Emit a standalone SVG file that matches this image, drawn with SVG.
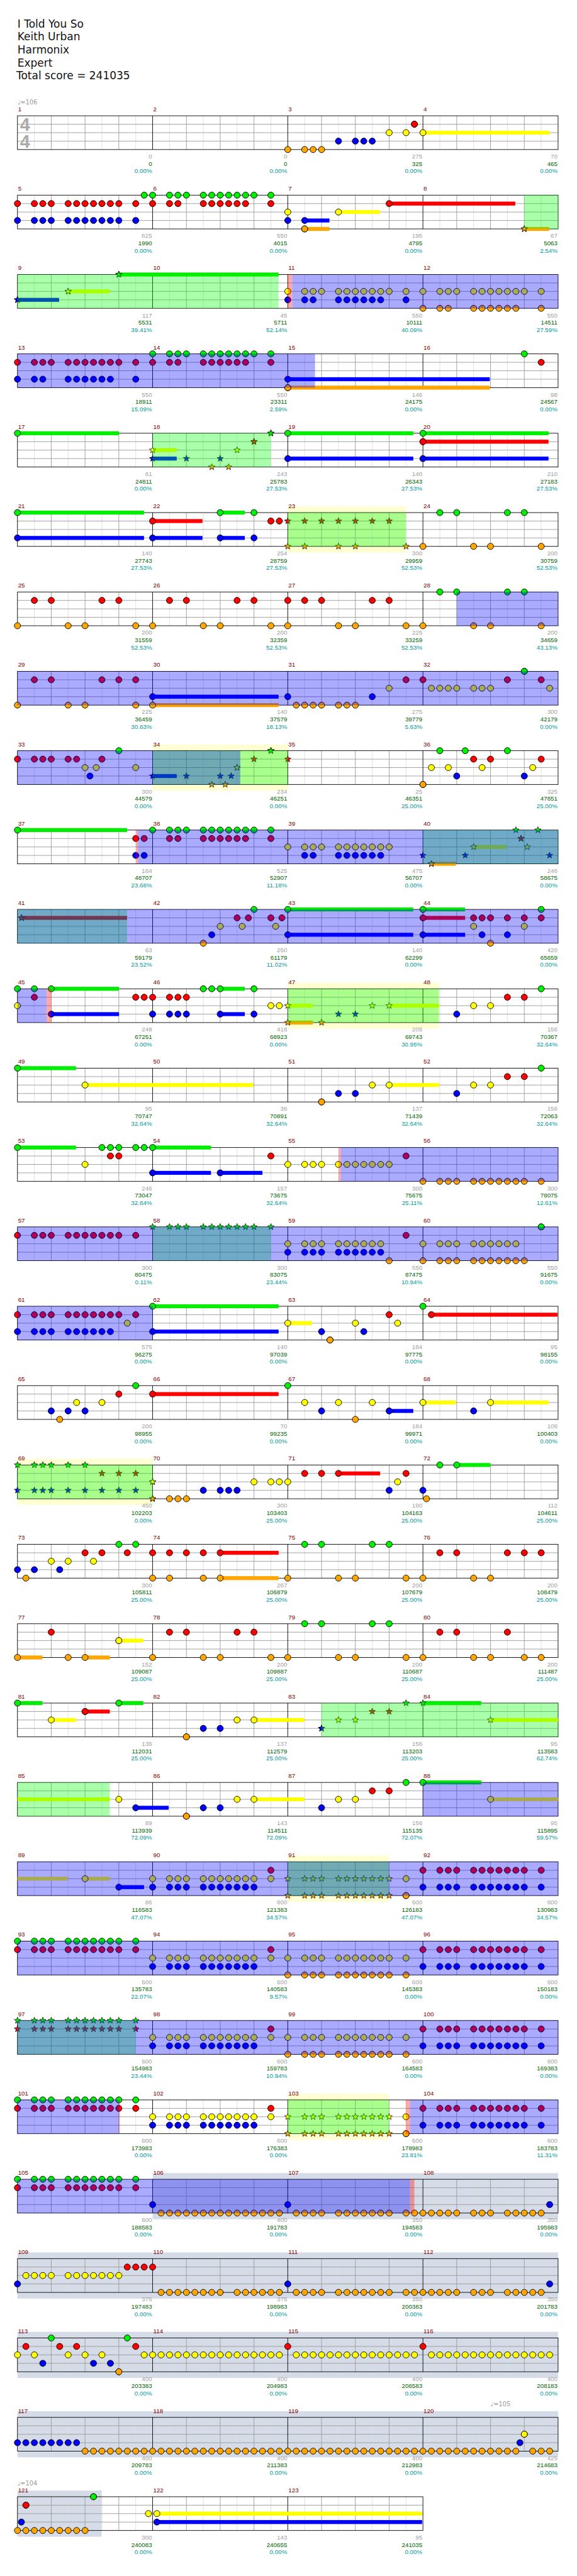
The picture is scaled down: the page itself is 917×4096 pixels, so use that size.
<svg xmlns="http://www.w3.org/2000/svg" xmlns:xlink="http://www.w3.org/1999/xlink" width="917" height="4096" viewBox="0 0 917 4096">
<style>
text{font-family:"Liberation Sans",Arial,sans-serif}
.tt{font-family:"DejaVu Sans",Verdana,sans-serif;font-size:19px;fill:#111}
.m{font-size:11px;fill:#800000}
.a,.b,.c{font-size:11px;text-anchor:end}
.a{fill:#a0a0a0}.b{fill:#006400}.c{fill:#009999}
.tp{font-family:"DejaVu Sans",sans-serif;font-size:11px;fill:#999}
.ts{font-size:32px;font-weight:bold;fill:#aaa}
.cG,.cR,.cY,.cB,.cO,.xG,.xR,.xY,.xB,.xO{fill:none;stroke:none}
.cG{marker-start:url(#kG);marker-mid:url(#kG);marker-end:url(#kG)}
.cR{marker-start:url(#kR);marker-mid:url(#kR);marker-end:url(#kR)}
.cY{marker-start:url(#kY);marker-mid:url(#kY);marker-end:url(#kY)}
.cB{marker-start:url(#kB);marker-mid:url(#kB);marker-end:url(#kB)}
.cO{marker-start:url(#kO);marker-mid:url(#kO);marker-end:url(#kO)}
.xG{marker-start:url(#jG);marker-mid:url(#jG);marker-end:url(#jG)}
.xR{marker-start:url(#jR);marker-mid:url(#jR);marker-end:url(#jR)}
.xY{marker-start:url(#jY);marker-mid:url(#jY);marker-end:url(#jY)}
.xB{marker-start:url(#jB);marker-mid:url(#jB);marker-end:url(#jB)}
.xO{marker-start:url(#jO);marker-mid:url(#jO);marker-end:url(#jO)}
.fG{fill:#0e0}.fR{fill:#f00}.fY{fill:#ff0}.fB{fill:#00f}.fO{fill:#ffa500}
.ob{fill:#00f;fill-opacity:.333}.og{fill:#0f0;fill-opacity:.333}.op{fill:#f00;fill-opacity:.333}
.pl{fill:#ffffd2}.gr{fill:#d5dce8}
</style>
<defs>
<path id="S" d="M0-6L1.47-2.02L5.71-1.85L2.38.77L3.53 4.85L0 2.5L-3.53 4.85L-2.38.77L-5.71-1.85L-1.47-2.02Z"/>
<marker id="kG" markerUnits="userSpaceOnUse" markerWidth="16" markerHeight="16" refX="8" refY="8" overflow="visible"><circle cx="8" cy="8" r="5.5" fill="#0e0" stroke="#000"/></marker>
<marker id="kR" markerUnits="userSpaceOnUse" markerWidth="16" markerHeight="16" refX="8" refY="8" overflow="visible"><circle cx="8" cy="8" r="5.5" fill="#f00" stroke="#000"/></marker>
<marker id="kY" markerUnits="userSpaceOnUse" markerWidth="16" markerHeight="16" refX="8" refY="8" overflow="visible"><circle cx="8" cy="8" r="5.5" fill="#ff0" stroke="#000"/></marker>
<marker id="kB" markerUnits="userSpaceOnUse" markerWidth="16" markerHeight="16" refX="8" refY="8" overflow="visible"><circle cx="8" cy="8" r="5.5" fill="#00f" stroke="#000"/></marker>
<marker id="kO" markerUnits="userSpaceOnUse" markerWidth="16" markerHeight="16" refX="8" refY="8" overflow="visible"><circle cx="8" cy="8" r="5.5" fill="#ffa500" stroke="#000"/></marker>
<marker id="jG" markerUnits="userSpaceOnUse" markerWidth="16" markerHeight="16" refX="8" refY="8" overflow="visible"><use href="#S" x="8" y="8" fill="#0e0" stroke="#000" stroke-width=".8"/></marker>
<marker id="jR" markerUnits="userSpaceOnUse" markerWidth="16" markerHeight="16" refX="8" refY="8" overflow="visible"><use href="#S" x="8" y="8" fill="#f00" stroke="#000" stroke-width=".8"/></marker>
<marker id="jY" markerUnits="userSpaceOnUse" markerWidth="16" markerHeight="16" refX="8" refY="8" overflow="visible"><use href="#S" x="8" y="8" fill="#ff0" stroke="#000" stroke-width=".8"/></marker>
<marker id="jB" markerUnits="userSpaceOnUse" markerWidth="16" markerHeight="16" refX="8" refY="8" overflow="visible"><use href="#S" x="8" y="8" fill="#00f" stroke="#000" stroke-width=".8"/></marker>
<marker id="jO" markerUnits="userSpaceOnUse" markerWidth="16" markerHeight="16" refX="8" refY="8" overflow="visible"><use href="#S" x="8" y="8" fill="#ffa500" stroke="#000" stroke-width=".8"/></marker>
<g id="st4" fill="none">
<path stroke="#ddd" d="M61 0V60M121 0V60M181 0V60M241 0V60M301 0V60M361 0V60M421 0V60M481 0V60M541 0V60M601 0V60M661 0V60M721 0V60M781 0V60M841 0V60M901 0V60M961 0V60"/>
<path stroke="#999" d="M91 0V60M151 0V60M211 0V60M331 0V60M391 0V60M451 0V60M571 0V60M631 0V60M691 0V60M811 0V60M871 0V60M931 0V60M31 15H991M31 30H991M31 45H991"/>
<path stroke="#000" d="M271 0V60M511 0V60M751 0V60"/>
<rect x="31" y="0" width="960" height="60" stroke="#000"/>
</g>
<g id="st3" fill="none">
<path stroke="#ddd" d="M61 0V60M121 0V60M181 0V60M241 0V60M301 0V60M361 0V60M421 0V60M481 0V60M541 0V60M601 0V60M661 0V60M721 0V60"/>
<path stroke="#999" d="M91 0V60M151 0V60M211 0V60M331 0V60M391 0V60M451 0V60M571 0V60M631 0V60M691 0V60M31 15H751M31 30H751M31 45H751"/>
<path stroke="#000" d="M271 0V60M511 0V60"/>
<rect x="31" y="0" width="720" height="60" stroke="#000"/>
</g>
</defs>
<rect width="917" height="4096" fill="#fff"/>
<g transform="scale(0.895)">
<g id="title">
<text class="tt" x="31" y="49">I Told You So</text>
<text class="tt" x="31" y="72">Keith Urban</text>
<text class="tt" x="31" y="95">Harmonix</text>
<text class="tt" x="31" y="118">Expert</text>
<text class="tt" x="29" y="141">Total score = 241035</text>
</g>

<g id="row-1" transform="translate(0,205.7)">
<use href="#st4"/>
<text class="ts" x="35.5" y="26.5">4</text><text class="ts" x="35.5" y="56.5">4</text>
<text class="tp" x="31" y="-20">♩=106</text>
<text class="m" x="32" y="-8">1</text><text class="m" x="272" y="-8">2</text><text class="m" x="512" y="-8">3</text><text class="m" x="752" y="-8">4</text>
<rect class="fY" x="751" y="26.5" width="224.7" height="7"/>
<path class="cR" d="M736 15h0"/>
<path class="cY" d="M691 30H721H751"/>
<path class="cB" d="M601 45H631H646H661"/>
<path class="cO" d="M511 60H541H556H571"/>
<text class="a" x="270" y="76">0</text><text class="b" x="270" y="89">0</text><text class="c" x="270" y="102">0.00%</text>
<text class="a" x="510" y="76">0</text><text class="b" x="510" y="89">0</text><text class="c" x="510" y="102">0.00%</text>
<text class="a" x="750" y="76">275</text><text class="b" x="750" y="89">325</text><text class="c" x="750" y="102">0.00%</text>
<text class="a" x="990" y="76">70</text><text class="b" x="990" y="89">465</text><text class="c" x="990" y="102">0.00%</text>
</g>

<g id="row-2" transform="translate(0,346.7)">
<use href="#st4"/>
<text class="m" x="32" y="-8">5</text><text class="m" x="272" y="-8">6</text><text class="m" x="512" y="-8">7</text><text class="m" x="752" y="-8">8</text>
<rect class="fR" x="691" y="11.5" width="224" height="7"/>
<rect class="fY" x="601" y="26.5" width="74" height="7"/>
<rect class="fB" x="541" y="41.5" width="44" height="7"/>
<rect class="fO" x="541" y="56.5" width="44" height="7"/>
<rect class="fO" x="931" y="56.5" width="44" height="7"/>
<path class="cG" d="M256 0H271H301H316H331H361H376H391H406H421H436H451H481"/>
<path class="cR" d="M31 15H61H76H91H121H136H151H166H181H196H211H241H271H301H316H361H376H391H406H421H436H481H691"/>
<path class="cY" d="M511 30H601"/>
<path class="cB" d="M31 45H61H76H91H121H136H151H166H181H196H211H241H511H541"/>
<path class="cO" d="M541 60h0"/>
<path class="xO" d="M931 60h0"/>
<rect class="og" x="931" y="0" width="60" height="60"/>
<text class="a" x="270" y="76">625</text><text class="b" x="270" y="89">1990</text><text class="c" x="270" y="102">0.00%</text>
<text class="a" x="510" y="76">550</text><text class="b" x="510" y="89">4015</text><text class="c" x="510" y="102">0.00%</text>
<text class="a" x="750" y="76">195</text><text class="b" x="750" y="89">4795</text><text class="c" x="750" y="102">0.00%</text>
<text class="a" x="990" y="76">67</text><text class="b" x="990" y="89">5063</text><text class="c" x="990" y="102">2.54%</text>
</g>

<g id="row-3" transform="translate(0,487.7)">
<use href="#st4"/>
<text class="m" x="32" y="-8">9</text><text class="m" x="272" y="-8">10</text><text class="m" x="512" y="-8">11</text><text class="m" x="752" y="-8">12</text>
<rect class="fG" x="211" y="-3.5" width="283.7" height="7"/>
<rect class="fY" x="121" y="26.5" width="74" height="7"/>
<rect class="fB" x="31" y="41.5" width="74" height="7"/>
<path class="xG" d="M211 0h0"/>
<path class="xY" d="M121 30h0"/>
<path class="xB" d="M31 45h0"/>
<path class="cY" d="M511 30H541H556H571H601H616H631H646H661H676H691H721H751H781H796H811H841H856H871H886H901H916H931H961"/>
<path class="cB" d="M511 45H541H556H601H616H631H646H661H676H721"/>
<path class="cO" d="M751 60H781H796H841H856H871H886H901H916H961"/>
<rect class="og" x="31" y="0" width="463.7" height="60"/>
<rect class="op" x="511" y="0" width="8" height="60"/>
<rect class="ob" x="519" y="0" width="472" height="60"/>
<text class="a" x="270" y="76">117</text><text class="b" x="270" y="89">5531</text><text class="c" x="270" y="102">39.41%</text>
<text class="a" x="510" y="76">45</text><text class="b" x="510" y="89">5711</text><text class="c" x="510" y="102">52.14%</text>
<text class="a" x="750" y="76">550</text><text class="b" x="750" y="89">10111</text><text class="c" x="750" y="102">40.09%</text>
<text class="a" x="990" y="76">550</text><text class="b" x="990" y="89">14511</text><text class="c" x="990" y="102">27.59%</text>
</g>

<g id="row-4" transform="translate(0,628.7)">
<use href="#st4"/>
<text class="m" x="32" y="-8">13</text><text class="m" x="272" y="-8">14</text><text class="m" x="512" y="-8">15</text><text class="m" x="752" y="-8">16</text>
<rect class="fB" x="511" y="41.5" width="358.7" height="7"/>
<rect class="fO" x="511" y="56.5" width="358.7" height="7"/>
<path class="cG" d="M271 0H301H316H331H361H376H391H406H421H436H451H481H931"/>
<path class="cR" d="M31 15H61H76H91H121H136H151H166H181H196H211H241H271H301H316H361H376H391H406H421H436H481H961"/>
<path class="cB" d="M31 45H61H76H121H136H151H166H181H196H241H511"/>
<path class="cO" d="M511 60h0"/>
<rect class="ob" x="31" y="0" width="528.4" height="60"/>
<text class="a" x="270" y="76">550</text><text class="b" x="270" y="89">18911</text><text class="c" x="270" y="102">15.09%</text>
<text class="a" x="510" y="76">550</text><text class="b" x="510" y="89">23311</text><text class="c" x="510" y="102">2.59%</text>
<text class="a" x="750" y="76">146</text><text class="b" x="750" y="89">24175</text><text class="c" x="750" y="102">0.00%</text>
<text class="a" x="990" y="76">98</text><text class="b" x="990" y="89">24567</text><text class="c" x="990" y="102">0.00%</text>
</g>

<g id="row-5" transform="translate(0,769.7)">
<use href="#st4"/>
<text class="m" x="32" y="-8">17</text><text class="m" x="272" y="-8">18</text><text class="m" x="512" y="-8">19</text><text class="m" x="752" y="-8">20</text>
<rect class="fG" x="31" y="-3.5" width="180.3" height="7"/>
<rect class="fG" x="511" y="-3.5" width="222.8" height="7"/>
<rect class="fG" x="751" y="-3.5" width="223" height="7"/>
<rect class="fR" x="751" y="11.5" width="223" height="7"/>
<rect class="fY" x="271" y="26.5" width="42.8" height="7"/>
<rect class="fB" x="271" y="41.5" width="42.8" height="7"/>
<rect class="fB" x="511" y="41.5" width="222.8" height="7"/>
<rect class="fB" x="751" y="41.5" width="223" height="7"/>
<path class="cG" d="M31 0H511H751"/>
<path class="xG" d="M481 0h0"/>
<path class="cR" d="M751 15h0"/>
<path class="xR" d="M451 15h0"/>
<path class="xY" d="M271 30H421"/>
<path class="xB" d="M271 45H331H391"/>
<path class="cB" d="M511 45H751"/>
<path class="xO" d="M376 60H406"/>
<rect class="og" x="271" y="0" width="210" height="60"/>
<text class="a" x="270" y="76">61</text><text class="b" x="270" y="89">24811</text><text class="c" x="270" y="102">0.00%</text>
<text class="a" x="510" y="76">243</text><text class="b" x="510" y="89">25783</text><text class="c" x="510" y="102">27.53%</text>
<text class="a" x="750" y="76">140</text><text class="b" x="750" y="89">26343</text><text class="c" x="750" y="102">27.53%</text>
<text class="a" x="990" y="76">210</text><text class="b" x="990" y="89">27183</text><text class="c" x="990" y="102">27.53%</text>
</g>

<g id="row-6" transform="translate(0,910.7)">
<rect class="pl" x="511" y="-11" width="209.7" height="82"/>
<use href="#st4"/>
<text class="m" x="32" y="-8">21</text><text class="m" x="272" y="-8">22</text><text class="m" x="512" y="-8">23</text><text class="m" x="752" y="-8">24</text>
<rect class="fG" x="31" y="-3.5" width="224.7" height="7"/>
<rect class="fG" x="391" y="-3.5" width="43.7" height="7"/>
<rect class="fR" x="271" y="11.5" width="88.5" height="7"/>
<rect class="fB" x="31" y="41.5" width="224.7" height="7"/>
<rect class="fB" x="271" y="41.5" width="88.5" height="7"/>
<rect class="fB" x="391" y="41.5" width="43.7" height="7"/>
<path class="cG" d="M31 0H391H451H781H811H901H931"/>
<path class="cR" d="M271 15H481H496"/>
<path class="xR" d="M511 15H541H571H601H631H661H691"/>
<path class="cB" d="M31 45H271H391H451"/>
<path class="xO" d="M511 60H541H601H631H721"/>
<path class="cO" d="M751 60H841H871H961"/>
<rect class="og" x="511" y="0" width="209.7" height="60"/>
<text class="a" x="270" y="76">140</text><text class="b" x="270" y="89">27743</text><text class="c" x="270" y="102">27.53%</text>
<text class="a" x="510" y="76">254</text><text class="b" x="510" y="89">28759</text><text class="c" x="510" y="102">27.53%</text>
<text class="a" x="750" y="76">300</text><text class="b" x="750" y="89">29959</text><text class="c" x="750" y="102">52.53%</text>
<text class="a" x="990" y="76">200</text><text class="b" x="990" y="89">30759</text><text class="c" x="990" y="102">52.53%</text>
</g>

<g id="row-7" transform="translate(0,1051.7)">
<use href="#st4"/>
<text class="m" x="32" y="-8">25</text><text class="m" x="272" y="-8">26</text><text class="m" x="512" y="-8">27</text><text class="m" x="752" y="-8">28</text>
<path class="cG" d="M781 0H811H901H931"/>
<path class="cR" d="M61 15H91H181H211H301H331H421H451H511H541H571H661H691"/>
<path class="cO" d="M31 60H121H151H241H271H361H391H481H511H601H631H721H751H841H871H961"/>
<rect class="ob" x="811" y="0" width="180" height="60"/>
<text class="a" x="270" y="76">200</text><text class="b" x="270" y="89">31559</text><text class="c" x="270" y="102">52.53%</text>
<text class="a" x="510" y="76">200</text><text class="b" x="510" y="89">32359</text><text class="c" x="510" y="102">52.53%</text>
<text class="a" x="750" y="76">225</text><text class="b" x="750" y="89">33259</text><text class="c" x="750" y="102">52.53%</text>
<text class="a" x="990" y="76">200</text><text class="b" x="990" y="89">34659</text><text class="c" x="990" y="102">43.13%</text>
</g>

<g id="row-8" transform="translate(0,1192.7)">
<use href="#st4"/>
<text class="m" x="32" y="-8">29</text><text class="m" x="272" y="-8">30</text><text class="m" x="512" y="-8">31</text><text class="m" x="752" y="-8">32</text>
<rect class="fB" x="271" y="41.5" width="223.7" height="7"/>
<rect class="fO" x="271" y="56.5" width="223.7" height="7"/>
<path class="cG" d="M931 0h0"/>
<path class="cR" d="M61 15H91H181H211H241H721H751H901H961"/>
<path class="cY" d="M691 30H766H781H796H811H841H856H871H976"/>
<path class="cB" d="M271 45H511H661"/>
<path class="cO" d="M31 60H121H151H241H271H526H541H556H571H601H616H631"/>
<rect class="ob" x="31" y="0" width="960" height="60"/>
<text class="a" x="270" y="76">225</text><text class="b" x="270" y="89">36459</text><text class="c" x="270" y="102">30.63%</text>
<text class="a" x="510" y="76">140</text><text class="b" x="510" y="89">37579</text><text class="c" x="510" y="102">18.13%</text>
<text class="a" x="750" y="76">275</text><text class="b" x="750" y="89">39779</text><text class="c" x="750" y="102">5.63%</text>
<text class="a" x="990" y="76">300</text><text class="b" x="990" y="89">42179</text><text class="c" x="990" y="102">0.00%</text>
</g>

<g id="row-9" transform="translate(0,1333.7)">
<rect class="pl" x="271" y="-11" width="240" height="82"/>
<use href="#st4"/>
<text class="m" x="32" y="-8">33</text><text class="m" x="272" y="-8">34</text><text class="m" x="512" y="-8">35</text><text class="m" x="752" y="-8">36</text>
<rect class="fB" x="271" y="41.5" width="42.8" height="7"/>
<path class="cG" d="M211 0H781H826H901"/>
<path class="xG" d="M481 0h0"/>
<path class="cR" d="M31 15H61H76H91H121H136H181H841H871H961"/>
<path class="xR" d="M451 15H511"/>
<path class="cY" d="M151 30H170.8H241H766H796H856H946"/>
<path class="xY" d="M421 30h0"/>
<path class="cB" d="M159.7 45H811H931"/>
<path class="xB" d="M271 45H331H391H410.5"/>
<path class="cO" d="M751 60h0"/>
<path class="xO" d="M376 60H400"/>
<rect class="og" x="271" y="0" width="240" height="60"/>
<rect class="ob" x="31" y="0" width="395.8" height="60"/>
<text class="a" x="270" y="76">300</text><text class="b" x="270" y="89">44579</text><text class="c" x="270" y="102">0.00%</text>
<text class="a" x="510" y="76">234</text><text class="b" x="510" y="89">46251</text><text class="c" x="510" y="102">0.00%</text>
<text class="a" x="750" y="76">25</text><text class="b" x="750" y="89">46351</text><text class="c" x="750" y="102">25.00%</text>
<text class="a" x="990" y="76">325</text><text class="b" x="990" y="89">47651</text><text class="c" x="990" y="102">25.00%</text>
</g>

<g id="row-10" transform="translate(0,1474.7)">
<use href="#st4"/>
<text class="m" x="32" y="-8">37</text><text class="m" x="272" y="-8">38</text><text class="m" x="512" y="-8">39</text><text class="m" x="752" y="-8">40</text>
<rect class="fG" x="31" y="-3.5" width="194.6" height="7"/>
<rect class="fY" x="841" y="26.5" width="58" height="7"/>
<rect class="fO" x="766" y="56.5" width="43.6" height="7"/>
<path class="cG" d="M31 0H271H301H316H331H361H376H391H406H421H436H451H481"/>
<path class="xG" d="M916 0H955.2"/>
<path class="cR" d="M241 15H256H301H316H361H376H391H406H421H436H481"/>
<path class="xR" d="M925.2 15h0"/>
<path class="cY" d="M511 30H541H556H571H601H616H631H646H661H676H691"/>
<path class="xY" d="M841 30H936.3"/>
<path class="cB" d="M241 45H256H541H556H601H616H631H646H661H676"/>
<path class="xB" d="M751 45H826H976"/>
<path class="xO" d="M766 60h0"/>
<rect class="op" x="241.3" y="0" width="3.3" height="60"/>
<rect class="og" x="751" y="0" width="240" height="60"/>
<rect class="ob" x="244.6" y="0" width="746.4" height="60"/>
<text class="a" x="270" y="76">164</text><text class="b" x="270" y="89">48707</text><text class="c" x="270" y="102">23.68%</text>
<text class="a" x="510" y="76">525</text><text class="b" x="510" y="89">52907</text><text class="c" x="510" y="102">11.18%</text>
<text class="a" x="750" y="76">475</text><text class="b" x="750" y="89">56707</text><text class="c" x="750" y="102">0.00%</text>
<text class="a" x="990" y="76">246</text><text class="b" x="990" y="89">58675</text><text class="c" x="990" y="102">0.00%</text>
</g>

<g id="row-11" transform="translate(0,1615.7)">
<use href="#st4"/>
<text class="m" x="32" y="-8">41</text><text class="m" x="272" y="-8">42</text><text class="m" x="512" y="-8">43</text><text class="m" x="752" y="-8">44</text>
<rect class="fR" x="38.2" y="11.5" width="187.4" height="7"/>
<rect class="fG" x="511" y="-3.5" width="222.8" height="7"/>
<rect class="fG" x="751" y="-3.5" width="74.9" height="7"/>
<rect class="fR" x="751" y="11.5" width="74.9" height="7"/>
<rect class="fB" x="511" y="41.5" width="222.8" height="7"/>
<rect class="fB" x="751" y="41.5" width="74.9" height="7"/>
<path class="xR" d="M38.2 15h0"/>
<path class="cG" d="M451 0H511H751H961"/>
<path class="cR" d="M421 15H441H481H500.6H751H841H856H871H901H931H961"/>
<path class="cY" d="M391 30H430H489.5H841H931"/>
<path class="cB" d="M376 45H511H751H856H901"/>
<path class="cO" d="M361 60H871"/>
<rect class="og" x="31" y="0" width="194.6" height="60"/>
<rect class="ob" x="31" y="0" width="960" height="60"/>
<text class="a" x="270" y="76">63</text><text class="b" x="270" y="89">59179</text><text class="c" x="270" y="102">23.52%</text>
<text class="a" x="510" y="76">250</text><text class="b" x="510" y="89">61179</text><text class="c" x="510" y="102">11.02%</text>
<text class="a" x="750" y="76">140</text><text class="b" x="750" y="89">62299</text><text class="c" x="750" y="102">0.00%</text>
<text class="a" x="990" y="76">420</text><text class="b" x="990" y="89">65659</text><text class="c" x="990" y="102">0.00%</text>
</g>

<g id="row-12" transform="translate(0,1756.7)">
<rect class="pl" x="511" y="-11" width="268.5" height="82"/>
<use href="#st4"/>
<text class="m" x="32" y="-8">45</text><text class="m" x="272" y="-8">46</text><text class="m" x="512" y="-8">47</text><text class="m" x="752" y="-8">48</text>
<rect class="fG" x="91" y="-3.5" width="120.3" height="7"/>
<rect class="fG" x="391" y="-3.5" width="43.7" height="7"/>
<rect class="fY" x="511" y="26.5" width="44.5" height="7"/>
<rect class="fY" x="691" y="26.5" width="88.5" height="7"/>
<rect class="fB" x="91" y="41.5" width="120.3" height="7"/>
<rect class="fB" x="391" y="41.5" width="43.7" height="7"/>
<rect class="fO" x="511" y="56.5" width="44.5" height="7"/>
<path class="cG" d="M31 0H61H91H361H376H391H451H961"/>
<path class="cR" d="M61 15H241H256H271H301H316H331H901H931"/>
<path class="cY" d="M31 30H481H496H841H871"/>
<path class="xY" d="M511 30H661H691"/>
<path class="cB" d="M91 45H271H301H316H331H391H451H811"/>
<path class="xB" d="M601 45H631"/>
<path class="xO" d="M511 60H571"/>
<rect class="og" x="511" y="0" width="268.5" height="60"/>
<rect class="ob" x="31" y="0" width="51.6" height="60"/>
<rect class="op" x="82.6" y="0" width="8.4" height="60"/>
<text class="a" x="270" y="76">248</text><text class="b" x="270" y="89">67251</text><text class="c" x="270" y="102">0.00%</text>
<text class="a" x="510" y="76">418</text><text class="b" x="510" y="89">68923</text><text class="c" x="510" y="102">0.00%</text>
<text class="a" x="750" y="76">205</text><text class="b" x="750" y="89">69743</text><text class="c" x="750" y="102">30.95%</text>
<text class="a" x="990" y="76">156</text><text class="b" x="990" y="89">70367</text><text class="c" x="990" y="102">32.64%</text>
</g>

<g id="row-13" transform="translate(0,1897.7)">
<use href="#st4"/>
<text class="m" x="32" y="-8">49</text><text class="m" x="272" y="-8">50</text><text class="m" x="512" y="-8">51</text><text class="m" x="752" y="-8">52</text>
<rect class="fG" x="31" y="-3.5" width="103.9" height="7"/>
<rect class="fY" x="151" y="26.5" width="298.7" height="7"/>
<rect class="fY" x="691" y="26.5" width="88.5" height="7"/>
<path class="cG" d="M31 0H961"/>
<path class="cR" d="M901 15H931"/>
<path class="cY" d="M151 30H661H691H841H871"/>
<path class="cB" d="M601 45H631H811"/>
<path class="cO" d="M571 60h0"/>
<text class="a" x="270" y="76">95</text><text class="b" x="270" y="89">70747</text><text class="c" x="270" y="102">32.64%</text>
<text class="a" x="510" y="76">36</text><text class="b" x="510" y="89">70891</text><text class="c" x="510" y="102">32.64%</text>
<text class="a" x="750" y="76">137</text><text class="b" x="750" y="89">71439</text><text class="c" x="750" y="102">32.64%</text>
<text class="a" x="990" y="76">156</text><text class="b" x="990" y="89">72063</text><text class="c" x="990" y="102">32.64%</text>
</g>

<g id="row-14" transform="translate(0,2038.7)">
<use href="#st4"/>
<text class="m" x="32" y="-8">53</text><text class="m" x="272" y="-8">54</text><text class="m" x="512" y="-8">55</text><text class="m" x="752" y="-8">56</text>
<rect class="fG" x="31" y="-3.5" width="103.9" height="7"/>
<rect class="fG" x="271" y="-3.5" width="103.6" height="7"/>
<rect class="fB" x="271" y="41.5" width="103.6" height="7"/>
<rect class="fB" x="391" y="41.5" width="75" height="7"/>
<path class="cG" d="M31 0H181H196H211H241H256H271"/>
<path class="cR" d="M196 15H211H481H721"/>
<path class="cY" d="M151 30H511H541H556H571H601H616H631H646H661H676H691"/>
<path class="cB" d="M271 45H391"/>
<path class="cO" d="M751 60H781H796H811H841H856H871H886H901H916H931H961"/>
<rect class="op" x="601.2" y="0" width="3.8" height="60"/>
<rect class="ob" x="605" y="0" width="386" height="60"/>
<text class="a" x="270" y="76">246</text><text class="b" x="270" y="89">73047</text><text class="c" x="270" y="102">32.64%</text>
<text class="a" x="510" y="76">157</text><text class="b" x="510" y="89">73675</text><text class="c" x="510" y="102">32.64%</text>
<text class="a" x="750" y="76">300</text><text class="b" x="750" y="89">75675</text><text class="c" x="750" y="102">25.11%</text>
<text class="a" x="990" y="76">300</text><text class="b" x="990" y="89">78075</text><text class="c" x="990" y="102">12.61%</text>
</g>

<g id="row-15" transform="translate(0,2179.7)">
<use href="#st4"/>
<text class="m" x="32" y="-8">57</text><text class="m" x="272" y="-8">58</text><text class="m" x="512" y="-8">59</text><text class="m" x="752" y="-8">60</text>
<path class="xG" d="M271 0H301H316H331H361H376H391H406H421H436H451H481"/>
<path class="cG" d="M961 0h0"/>
<path class="cR" d="M31 15H61H76H91H121H136H151H166H181H196H211H241H721"/>
<path class="cY" d="M511 30H541H556H571H601H616H631H646H661H676H751H781H796H811H841H856H871H886H901H916"/>
<path class="cB" d="M511 45H541H556H571H601H616H631H646H661H676"/>
<path class="cO" d="M691 60H751H781H796H811H841H856H871H886H901H916H931"/>
<rect class="og" x="271" y="0" width="210" height="60"/>
<rect class="ob" x="31" y="0" width="960" height="60"/>
<text class="a" x="270" y="76">300</text><text class="b" x="270" y="89">80475</text><text class="c" x="270" y="102">0.11%</text>
<text class="a" x="510" y="76">300</text><text class="b" x="510" y="89">83075</text><text class="c" x="510" y="102">23.44%</text>
<text class="a" x="750" y="76">550</text><text class="b" x="750" y="89">87475</text><text class="c" x="750" y="102">10.94%</text>
<text class="a" x="990" y="76">550</text><text class="b" x="990" y="89">91675</text><text class="c" x="990" y="102">0.00%</text>
</g>

<g id="row-16" transform="translate(0,2320.7)">
<use href="#st4"/>
<text class="m" x="32" y="-8">61</text><text class="m" x="272" y="-8">62</text><text class="m" x="512" y="-8">63</text><text class="m" x="752" y="-8">64</text>
<rect class="fG" x="271" y="-3.5" width="223.7" height="7"/>
<rect class="fR" x="766" y="11.5" width="223.8" height="7"/>
<rect class="fY" x="511" y="26.5" width="43.2" height="7"/>
<rect class="fB" x="271" y="41.5" width="223.7" height="7"/>
<path class="cG" d="M271 0H751"/>
<path class="cR" d="M31 15H61H76H91H121H136H151H166H181H196H211H241H691H766"/>
<path class="cY" d="M226 30H511H631H706"/>
<path class="cB" d="M31 45H61H76H91H121H136H151H166H181H196H271H571H646"/>
<path class="cO" d="M586 60h0"/>
<rect class="ob" x="31" y="0" width="240" height="60"/>
<text class="a" x="270" y="76">575</text><text class="b" x="270" y="89">96275</text><text class="c" x="270" y="102">0.00%</text>
<text class="a" x="510" y="76">140</text><text class="b" x="510" y="89">97039</text><text class="c" x="510" y="102">0.00%</text>
<text class="a" x="750" y="76">184</text><text class="b" x="750" y="89">97775</text><text class="c" x="750" y="102">0.00%</text>
<text class="a" x="990" y="76">95</text><text class="b" x="990" y="89">98155</text><text class="c" x="990" y="102">0.00%</text>
</g>

<g id="row-17" transform="translate(0,2461.7)">
<use href="#st4"/>
<text class="m" x="32" y="-8">65</text><text class="m" x="272" y="-8">66</text><text class="m" x="512" y="-8">67</text><text class="m" x="752" y="-8">68</text>
<rect class="fR" x="271" y="11.5" width="223.7" height="7"/>
<rect class="fY" x="751" y="26.5" width="58.6" height="7"/>
<rect class="fY" x="871" y="26.5" width="103" height="7"/>
<rect class="fB" x="691" y="41.5" width="42.8" height="7"/>
<path class="cG" d="M241 0H511"/>
<path class="cR" d="M211 15H271"/>
<path class="cY" d="M136 30H181H541H601H661H751H871"/>
<path class="cB" d="M91 45H121H151H571H691H841"/>
<path class="cO" d="M106 60H631"/>
<text class="a" x="270" y="76">200</text><text class="b" x="270" y="89">98955</text><text class="c" x="270" y="102">0.00%</text>
<text class="a" x="510" y="76">70</text><text class="b" x="510" y="89">99235</text><text class="c" x="510" y="102">0.00%</text>
<text class="a" x="750" y="76">184</text><text class="b" x="750" y="89">99971</text><text class="c" x="750" y="102">0.00%</text>
<text class="a" x="990" y="76">108</text><text class="b" x="990" y="89">100403</text><text class="c" x="990" y="102">0.00%</text>
</g>

<g id="row-18" transform="translate(0,2602.7)">
<rect class="pl" x="31" y="-11" width="240" height="82"/>
<use href="#st4"/>
<text class="m" x="32" y="-8">69</text><text class="m" x="272" y="-8">70</text><text class="m" x="512" y="-8">71</text><text class="m" x="752" y="-8">72</text>
<rect class="fG" x="811" y="-3.5" width="60" height="7"/>
<rect class="fR" x="601" y="11.5" width="74" height="7"/>
<path class="xG" d="M31 0H61H76H91H121H151"/>
<path class="cG" d="M781 0H811"/>
<path class="xR" d="M181 15H211H241"/>
<path class="cR" d="M541 15H571H601H721"/>
<path class="xY" d="M271 30h0"/>
<path class="cY" d="M451 30H481H496H511H706"/>
<path class="xB" d="M31 45H61H76H91H121H151H181H211H241"/>
<path class="cB" d="M361 45H391H406H421H691H751"/>
<path class="xO" d="M271 60h0"/>
<path class="cO" d="M301 60H316H331H757.3"/>
<rect class="og" x="31" y="0" width="240" height="60"/>
<text class="a" x="270" y="76">450</text><text class="b" x="270" y="89">102203</text><text class="c" x="270" y="102">0.00%</text>
<text class="a" x="510" y="76">300</text><text class="b" x="510" y="89">103403</text><text class="c" x="510" y="102">25.00%</text>
<text class="a" x="750" y="76">190</text><text class="b" x="750" y="89">104163</text><text class="c" x="750" y="102">25.00%</text>
<text class="a" x="990" y="76">112</text><text class="b" x="990" y="89">104611</text><text class="c" x="990" y="102">25.00%</text>
</g>

<g id="row-19" transform="translate(0,2743.7)">
<use href="#st4"/>
<text class="m" x="32" y="-8">73</text><text class="m" x="272" y="-8">74</text><text class="m" x="512" y="-8">75</text><text class="m" x="752" y="-8">76</text>
<rect class="fR" x="391" y="11.5" width="103.7" height="7"/>
<rect class="fO" x="391" y="56.5" width="103.7" height="7"/>
<path class="cG" d="M211 0H241H541H571H661H691"/>
<path class="cR" d="M151 15H181H226H271H301H331H361H391H781H811H901H931H961"/>
<path class="cY" d="M91 30H121H166"/>
<path class="cB" d="M31 45H61H106"/>
<path class="cO" d="M46 60H271H301H361H391H511H601H631H721H751H841H871"/>
<text class="a" x="270" y="76">300</text><text class="b" x="270" y="89">105811</text><text class="c" x="270" y="102">25.00%</text>
<text class="a" x="510" y="76">267</text><text class="b" x="510" y="89">106879</text><text class="c" x="510" y="102">25.00%</text>
<text class="a" x="750" y="76">200</text><text class="b" x="750" y="89">107679</text><text class="c" x="750" y="102">25.00%</text>
<text class="a" x="990" y="76">200</text><text class="b" x="990" y="89">108479</text><text class="c" x="990" y="102">25.00%</text>
</g>

<g id="row-20" transform="translate(0,2884.7)">
<use href="#st4"/>
<text class="m" x="32" y="-8">77</text><text class="m" x="272" y="-8">78</text><text class="m" x="512" y="-8">79</text><text class="m" x="752" y="-8">80</text>
<rect class="fY" x="211" y="26.5" width="43.4" height="7"/>
<rect class="fO" x="31" y="56.5" width="44.4" height="7"/>
<rect class="fO" x="151" y="56.5" width="44" height="7"/>
<path class="cG" d="M541 0H571H661H691"/>
<path class="cR" d="M91 15H301H331H421H451H781H811H901"/>
<path class="cY" d="M211 30h0"/>
<path class="cO" d="M31 60H121H151H271H361H391H481H511H601H631H721H751H841H871H931H961"/>
<text class="a" x="270" y="76">152</text><text class="b" x="270" y="89">109087</text><text class="c" x="270" y="102">25.00%</text>
<text class="a" x="510" y="76">200</text><text class="b" x="510" y="89">109887</text><text class="c" x="510" y="102">25.00%</text>
<text class="a" x="750" y="76">200</text><text class="b" x="750" y="89">110687</text><text class="c" x="750" y="102">25.00%</text>
<text class="a" x="990" y="76">200</text><text class="b" x="990" y="89">111487</text><text class="c" x="990" y="102">25.00%</text>
</g>

<g id="row-21" transform="translate(0,3025.7)">
<use href="#st4"/>
<text class="m" x="32" y="-8">81</text><text class="m" x="272" y="-8">82</text><text class="m" x="512" y="-8">83</text><text class="m" x="752" y="-8">84</text>
<rect class="fG" x="31" y="-3.5" width="44.4" height="7"/>
<rect class="fG" x="211" y="-3.5" width="43.4" height="7"/>
<rect class="fG" x="751" y="-3.5" width="103.6" height="7"/>
<rect class="fR" x="151" y="11.5" width="44" height="7"/>
<rect class="fY" x="91" y="26.5" width="43.9" height="7"/>
<rect class="fY" x="451" y="26.5" width="89.5" height="7"/>
<rect class="fY" x="871" y="26.5" width="120" height="7"/>
<path class="cG" d="M31 0H211"/>
<path class="xG" d="M721 0H751"/>
<path class="cR" d="M151 15h0"/>
<path class="xR" d="M661 15H691"/>
<path class="cY" d="M91 30H421H451"/>
<path class="xY" d="M601 30H631H871"/>
<path class="cB" d="M361 45H391"/>
<path class="xB" d="M571 45h0"/>
<path class="cO" d="M331 60h0"/>
<rect class="og" x="571" y="0" width="420" height="60"/>
<text class="a" x="270" y="76">136</text><text class="b" x="270" y="89">112031</text><text class="c" x="270" y="102">25.00%</text>
<text class="a" x="510" y="76">137</text><text class="b" x="510" y="89">112579</text><text class="c" x="510" y="102">25.00%</text>
<text class="a" x="750" y="76">156</text><text class="b" x="750" y="89">113203</text><text class="c" x="750" y="102">25.00%</text>
<text class="a" x="990" y="76">95</text><text class="b" x="990" y="89">113583</text><text class="c" x="990" y="102">62.74%</text>
</g>

<g id="row-22" transform="translate(0,3166.7)">
<use href="#st4"/>
<text class="m" x="32" y="-8">85</text><text class="m" x="272" y="-8">86</text><text class="m" x="512" y="-8">87</text><text class="m" x="752" y="-8">88</text>
<rect class="fG" x="751" y="-3.5" width="103.6" height="7"/>
<rect class="fY" x="31" y="26.5" width="164" height="7"/>
<rect class="fY" x="451" y="26.5" width="89.5" height="7"/>
<rect class="fY" x="871" y="26.5" width="120" height="7"/>
<rect class="fB" x="241" y="41.5" width="58.5" height="7"/>
<path class="cG" d="M721 0H751"/>
<path class="cR" d="M661 15H691"/>
<path class="cY" d="M211 30H421H451H601H631H871"/>
<path class="cB" d="M241 45H361H391H571"/>
<path class="cO" d="M331 60h0"/>
<rect class="og" x="31" y="0" width="164" height="60"/>
<rect class="ob" x="751" y="0" width="240" height="60"/>
<text class="a" x="270" y="76">89</text><text class="b" x="270" y="89">113939</text><text class="c" x="270" y="102">72.09%</text>
<text class="a" x="510" y="76">143</text><text class="b" x="510" y="89">114511</text><text class="c" x="510" y="102">72.09%</text>
<text class="a" x="750" y="76">156</text><text class="b" x="750" y="89">115135</text><text class="c" x="750" y="102">72.07%</text>
<text class="a" x="990" y="76">95</text><text class="b" x="990" y="89">115895</text><text class="c" x="990" y="102">59.57%</text>
</g>

<g id="row-23" transform="translate(0,3307.7)">
<rect class="pl" x="511" y="-11" width="179.7" height="82"/>
<use href="#st4"/>
<text class="m" x="32" y="-8">89</text><text class="m" x="272" y="-8">90</text><text class="m" x="512" y="-8">91</text><text class="m" x="752" y="-8">92</text>
<rect class="fY" x="31" y="26.5" width="88.8" height="7"/>
<rect class="fY" x="151" y="26.5" width="44" height="7"/>
<rect class="fB" x="211" y="41.5" width="44.7" height="7"/>
<path class="cR" d="M481 15H751H781H796H811H841H856H871H886H901H916H931H961"/>
<path class="cY" d="M151 30H271H301H316H331H361H376H391H406H421H436H451H481H721"/>
<path class="xY" d="M511 30H541H556H571H601H616H631H646H661H676H691"/>
<path class="cB" d="M211 45H271H301H316H331H361H376H391H406H421H436H451H751H781H796H811H841H856H871H886H901H916H931H961"/>
<path class="cO" d="M721 60h0"/>
<path class="xO" d="M511 60H541H556H571H601H616H631H646H661H676H691"/>
<rect class="og" x="511" y="0" width="179.7" height="60"/>
<rect class="ob" x="31" y="0" width="960" height="60"/>
<text class="a" x="270" y="76">86</text><text class="b" x="270" y="89">116583</text><text class="c" x="270" y="102">47.07%</text>
<text class="a" x="510" y="76">600</text><text class="b" x="510" y="89">121383</text><text class="c" x="510" y="102">34.57%</text>
<text class="a" x="750" y="76">600</text><text class="b" x="750" y="89">126183</text><text class="c" x="750" y="102">47.07%</text>
<text class="a" x="990" y="76">600</text><text class="b" x="990" y="89">130983</text><text class="c" x="990" y="102">34.57%</text>
</g>

<g id="row-24" transform="translate(0,3448.7)">
<use href="#st4"/>
<text class="m" x="32" y="-8">93</text><text class="m" x="272" y="-8">94</text><text class="m" x="512" y="-8">95</text><text class="m" x="752" y="-8">96</text>
<path class="cG" d="M31 0H61H76H91H121H136H151H166H181H196H211H241"/>
<path class="cR" d="M31 15H61H76H91H121H136H151H166H181H196H211H241H481H751H781H796H811H841H856H871H886H901H916H931H961"/>
<path class="cY" d="M271 30H301H316H331H361H376H391H406H421H436H451H481H511H541H556H571H601H616H631H646H661H676H691H721"/>
<path class="cB" d="M271 45H301H316H331H361H376H391H406H421H436H451H751H781H796H811H841H856H871H886H901H916H931H961"/>
<path class="cO" d="M511 60H541H556H571H601H616H631H646H661H676H691H721"/>
<rect class="ob" x="31" y="0" width="960" height="60"/>
<text class="a" x="270" y="76">600</text><text class="b" x="270" y="89">135783</text><text class="c" x="270" y="102">22.07%</text>
<text class="a" x="510" y="76">600</text><text class="b" x="510" y="89">140583</text><text class="c" x="510" y="102">9.57%</text>
<text class="a" x="750" y="76">600</text><text class="b" x="750" y="89">145383</text><text class="c" x="750" y="102">0.00%</text>
<text class="a" x="990" y="76">600</text><text class="b" x="990" y="89">150183</text><text class="c" x="990" y="102">0.00%</text>
</g>

<g id="row-25" transform="translate(0,3589.7)">
<use href="#st4"/>
<text class="m" x="32" y="-8">97</text><text class="m" x="272" y="-8">98</text><text class="m" x="512" y="-8">99</text><text class="m" x="752" y="-8">100</text>
<path class="xG" d="M31 0H61H76H91H121H136H151H166H181H196H211H241"/>
<path class="xR" d="M31 15H61H76H91H121H136H151H166H181H196H211H241"/>
<path class="cR" d="M481 15H751H781H796H811H841H856H871H886H901H916H931H961"/>
<path class="cY" d="M271 30H301H316H331H361H376H391H406H421H436H451H481H511H541H556H571H601H616H631H646H661H676H691H721"/>
<path class="cB" d="M271 45H301H316H331H361H376H391H406H421H436H451H751H781H796H811H841H856H871H886H901H916H931H961"/>
<path class="cO" d="M511 60H541H556H571H601H616H631H646H661H676H691H721"/>
<rect class="og" x="31" y="0" width="210.3" height="60"/>
<rect class="ob" x="31" y="0" width="960" height="60"/>
<text class="a" x="270" y="76">600</text><text class="b" x="270" y="89">154983</text><text class="c" x="270" y="102">23.44%</text>
<text class="a" x="510" y="76">600</text><text class="b" x="510" y="89">159783</text><text class="c" x="510" y="102">10.94%</text>
<text class="a" x="750" y="76">600</text><text class="b" x="750" y="89">164583</text><text class="c" x="750" y="102">0.00%</text>
<text class="a" x="990" y="76">600</text><text class="b" x="990" y="89">169383</text><text class="c" x="990" y="102">0.00%</text>
</g>

<g id="row-26" transform="translate(0,3730.7)">
<rect class="pl" x="511" y="-11" width="179.7" height="82"/>
<use href="#st4"/>
<text class="m" x="32" y="-8">101</text><text class="m" x="272" y="-8">102</text><text class="m" x="512" y="-8">103</text><text class="m" x="752" y="-8">104</text>
<path class="cG" d="M31 0H61H76H91H121H136H151H166H181H196H211H241"/>
<path class="cR" d="M31 15H61H76H91H121H136H151H166H181H196H211H241H481H751H781H796H811H841H856H871H886H901H916H931H961"/>
<path class="cY" d="M271 30H301H316H331H361H376H391H406H421H436H451H481H721"/>
<path class="xY" d="M511 30H541H556H571H601H616H631H646H661H676H691"/>
<path class="cB" d="M271 45H301H316H331H361H376H391H406H421H436H451H751H781H796H811H841H856H871H886H901H916H931H961"/>
<path class="cO" d="M721 60h0"/>
<path class="xO" d="M511 60H541H556H571H601H616H631H646H661H676H691"/>
<rect class="ob" x="31" y="0" width="180.3" height="60"/>
<rect class="op" x="211.3" y="0" width="1.5" height="60"/>
<rect class="og" x="511" y="0" width="179.7" height="60"/>
<rect class="op" x="720.7" y="0" width="7.2" height="60"/>
<rect class="ob" x="727.9" y="0" width="263.1" height="60"/>
<text class="a" x="270" y="76">600</text><text class="b" x="270" y="89">173983</text><text class="c" x="270" y="102">0.00%</text>
<text class="a" x="510" y="76">600</text><text class="b" x="510" y="89">176383</text><text class="c" x="510" y="102">0.00%</text>
<text class="a" x="750" y="76">600</text><text class="b" x="750" y="89">178983</text><text class="c" x="750" y="102">23.81%</text>
<text class="a" x="990" y="76">600</text><text class="b" x="990" y="89">183783</text><text class="c" x="990" y="102">11.31%</text>
</g>

<g id="row-27" transform="translate(0,3871.7)">
<rect class="gr" x="271" y="-11" width="720" height="82"/>
<use href="#st4"/>
<text class="m" x="32" y="-8">105</text><text class="m" x="272" y="-8">106</text><text class="m" x="512" y="-8">107</text><text class="m" x="752" y="-8">108</text>
<path class="cG" d="M31 0H61H76H91H121H136H151H166H181H196H211H241"/>
<path class="cR" d="M31 15H61H76H91H121H136H151H166H181H196H211H241"/>
<path class="cB" d="M271 45H511H976"/>
<path class="cO" d="M286 60H301H316H331H346H361H376H391H406H421H436H451H466H481H496H526H541H556H571H601H616H631H646H661H676H691H721H736H751H766H781H796H811H841H856H871H901H916H931H946H961"/>
<rect class="ob" x="31" y="0" width="696.9" height="60"/>
<rect class="op" x="727.9" y="0" width="7.9" height="60"/>
<text class="a" x="270" y="76">600</text><text class="b" x="270" y="89">188583</text><text class="c" x="270" y="102">0.00%</text>
<text class="a" x="510" y="76">400</text><text class="b" x="510" y="89">191783</text><text class="c" x="510" y="102">0.00%</text>
<text class="a" x="750" y="76">350</text><text class="b" x="750" y="89">194583</text><text class="c" x="750" y="102">0.00%</text>
<text class="a" x="990" y="76">350</text><text class="b" x="990" y="89">195983</text><text class="c" x="990" y="102">0.00%</text>
</g>

<g id="row-28" transform="translate(0,4012.7)">
<rect class="gr" x="31" y="-11" width="960" height="82"/>
<use href="#st4"/>
<text class="m" x="32" y="-8">109</text><text class="m" x="272" y="-8">110</text><text class="m" x="512" y="-8">111</text><text class="m" x="752" y="-8">112</text>
<path class="cR" d="M226 15H241H256H271"/>
<path class="cY" d="M46 30H61H76H91H121H136H151H166H181H196H211"/>
<path class="cB" d="M31 45H511H976"/>
<path class="cO" d="M286 60H301H316H331H346H361H376H391H421H436H451H466H481H496H526H541H556H571H601H616H631H646H661H676H691H721H736H751H766H781H796H811H841H856H871H901H916H931H946H961"/>
<text class="a" x="270" y="76">375</text><text class="b" x="270" y="89">197483</text><text class="c" x="270" y="102">0.00%</text>
<text class="a" x="510" y="76">375</text><text class="b" x="510" y="89">198983</text><text class="c" x="510" y="102">0.00%</text>
<text class="a" x="750" y="76">350</text><text class="b" x="750" y="89">200383</text><text class="c" x="750" y="102">0.00%</text>
<text class="a" x="990" y="76">350</text><text class="b" x="990" y="89">201783</text><text class="c" x="990" y="102">0.00%</text>
</g>

<g id="row-29" transform="translate(0,4153.7)">
<rect class="gr" x="31" y="-11" width="960" height="82"/>
<use href="#st4"/>
<text class="m" x="32" y="-8">113</text><text class="m" x="272" y="-8">114</text><text class="m" x="512" y="-8">115</text><text class="m" x="752" y="-8">116</text>
<path class="cG" d="M91 0H226"/>
<path class="cR" d="M46 15H106H136H241H511H751"/>
<path class="cY" d="M31 30H61H121H151H181H256H271H286H301H316H331H346H361H376H391H406H421H436H451H466H481H496H526H541H556H571H586H601H616H631H646H661H676H691H706H721H736H766H781H796H811H826H841H856H871H886H901H916H931H946H961H976"/>
<path class="cB" d="M76 45H166H196"/>
<path class="cO" d="M211 60h0"/>
<text class="a" x="270" y="76">400</text><text class="b" x="270" y="89">203383</text><text class="c" x="270" y="102">0.00%</text>
<text class="a" x="510" y="76">400</text><text class="b" x="510" y="89">204983</text><text class="c" x="510" y="102">0.00%</text>
<text class="a" x="750" y="76">400</text><text class="b" x="750" y="89">206583</text><text class="c" x="750" y="102">0.00%</text>
<text class="a" x="990" y="76">400</text><text class="b" x="990" y="89">208183</text><text class="c" x="990" y="102">0.00%</text>
</g>

<g id="row-30" transform="translate(0,4294.7)">
<rect class="gr" x="31" y="-11" width="960" height="82"/>
<use href="#st4"/>
<text class="tp" x="871" y="-20">♩=105</text>
<text class="m" x="32" y="-8">117</text><text class="m" x="272" y="-8">118</text><text class="m" x="512" y="-8">119</text><text class="m" x="752" y="-8">120</text>
<path class="cY" d="M931 30h0"/>
<path class="cB" d="M31 45H46H61H76H91H106H121H136H923.2"/>
<path class="cO" d="M151 60H166H181H196H211H226H241H256H271H286H301H316H331H346H361H376H391H406H421H436H451H466H481H496H511H526H541H556H571H586H601H616H631H646H661H676H691H706H721H736H751H766H781H796H811H826H841H856H871H886H901H916H946H961H976"/>
<text class="a" x="270" y="76">400</text><text class="b" x="270" y="89">209783</text><text class="c" x="270" y="102">0.00%</text>
<text class="a" x="510" y="76">400</text><text class="b" x="510" y="89">211383</text><text class="c" x="510" y="102">0.00%</text>
<text class="a" x="750" y="76">400</text><text class="b" x="750" y="89">212983</text><text class="c" x="750" y="102">0.00%</text>
<text class="a" x="990" y="76">425</text><text class="b" x="990" y="89">214683</text><text class="c" x="990" y="102">0.00%</text>
</g>

<g id="row-31" transform="translate(0,4435.7)">
<rect class="gr" x="31" y="-11" width="149.6" height="82"/>
<use href="#st3"/>
<text class="tp" x="31" y="-20">♩=104</text>
<text class="m" x="32" y="-8">121</text><text class="m" x="272" y="-8">122</text><text class="m" x="512" y="-8">123</text>
<rect class="fY" x="278.5" y="26.5" width="471" height="7"/>
<rect class="fB" x="278.5" y="41.5" width="471" height="7"/>
<path class="cG" d="M166 0h0"/>
<path class="cR" d="M46 15h0"/>
<path class="cY" d="M263.5 30H278.5"/>
<path class="cB" d="M38 45H278.5"/>
<path class="cO" d="M31 60H46H61H76H91H106H121H136H151"/>
<text class="a" x="270" y="76">300</text><text class="b" x="270" y="89">240083</text><text class="c" x="270" y="102">0.00%</text>
<text class="a" x="510" y="76">143</text><text class="b" x="510" y="89">240655</text><text class="c" x="510" y="102">0.00%</text>
<text class="a" x="750" y="76">95</text><text class="b" x="750" y="89">241035</text><text class="c" x="750" y="102">0.00%</text>
</g>
</g>
</svg>
